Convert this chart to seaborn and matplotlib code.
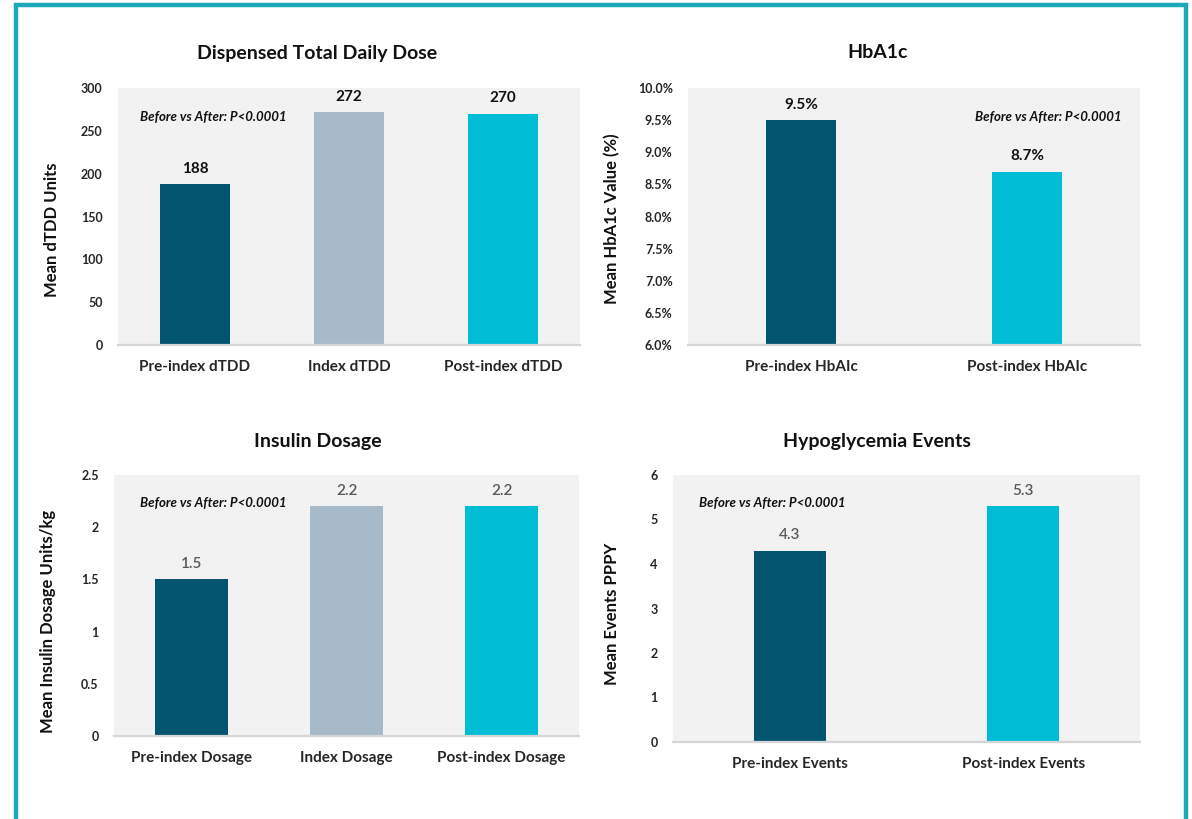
import matplotlib
matplotlib.use("Agg")
import matplotlib.pyplot as plt
from matplotlib.patches import Rectangle
from matplotlib.ticker import FuncFormatter
import seaborn as sns
import pandas as pd

# ---- data -------------------------------------------------------------
dose_labels = ["Pre-index dTDD", "Index dTDD", "Post-index dTDD"]
dose_values = [188, 272, 270]

hba1c_labels = ["Pre-index HbAIc", "Post-index HbAIc"]
hba1c_values = [9.5, 8.7]

insulin_labels = ["Pre-index Dosage", "Index Dosage", "Post-index Dosage"]
insulin_values = [1.5, 2.2, 2.2]

hypo_labels = ["Pre-index Events", "Post-index Events"]
hypo_values = [4.3, 5.3]

# ---- styling ----------------------------------------------------------
DARK = "#02546F"
GREYBLUE = "#A7BAC9"
CYAN = "#00BDD6"
PANEL_BG = "#F2F2F2"
FRAME = "#1BA8B8"

sns.set_theme(style="white")
plt.rcParams["font.family"] = ["Lato", "DejaVu Sans"]

W, H = 1192, 819
fig = plt.figure(figsize=(W / 100, H / 100), dpi=100)
fig.patch.set_facecolor("white")

# outer teal frame
fig.patches.append(Rectangle((16 / W, -0.05), (1186 - 16) / W, 1.05 - 5 / H,
                             transform=fig.transFigure, fill=False,
                             edgecolor=FRAME, linewidth=3.2, zorder=0))


def px_axes(left, top, right, bottom):
    return fig.add_axes([left / W, 1 - bottom / H, (right - left) / W, (bottom - top) / H])


def panel(ax, labels, values, colors, ylim, yticks, width, ylabel, ylab_xy,
          fmt_tick, fmt_val, val_color, val_weight, note_xy, note_ha):
    df = pd.DataFrame({"cat": labels, "val": values})
    sns.barplot(data=df, x="cat", y="val", hue="cat", palette=colors,
                width=width, legend=False, ax=ax, saturation=1,
                edgecolor="none", linewidth=0)
    ax.set_facecolor(PANEL_BG)
    ax.set_ylim(*ylim)
    ax.set_yticks(yticks)
    ax.yaxis.set_major_formatter(FuncFormatter(fmt_tick))
    ax.set_xlim(-0.5, len(labels) - 0.5)
    for s in ["top", "right", "left"]:
        ax.spines[s].set_visible(False)
    ax.spines["bottom"].set_color("#D6D6D6")
    ax.spines["bottom"].set_linewidth(1.6)
    ax.tick_params(axis="both", length=0)
    ax.tick_params(axis="y", pad=11, labelsize=9)
    ax.tick_params(axis="x", pad=11, labelsize=11)
    for t in ax.get_yticklabels():
        t.set_fontweight("bold")
    for t in ax.get_xticklabels():
        t.set_fontweight("bold")
    ax.set_xlabel("")
    ax.set_ylabel(ylabel, fontsize=12, fontweight="bold", color="#111111")
    ax.yaxis.set_label_coords(*ylab_xy)
    for i, v in enumerate(values):
        ax.annotate(fmt_val(v), xy=(i, v), xytext=(0, 6), textcoords="offset points",
                    ha="center", va="bottom", fontsize=11, color=val_color,
                    fontweight=val_weight)
    ax.text(note_xy[0], note_xy[1], "Before vs After: P<0.0001", transform=ax.transAxes,
            ha=note_ha, va="center", fontsize=9.5, fontstyle="italic",
            fontweight="bold", color="#111111")


# Dispensed total daily dose
ax1 = px_axes(118, 88, 580, 345)
panel(ax1, dose_labels, dose_values, [DARK, GREYBLUE, CYAN], (0, 300),
      range(0, 301, 50), 0.455, "Mean dTDD Units", (-0.125, 0.45),
      lambda v, p: f"{v:.0f}", lambda v: f"{v:.0f}", "#111111", "bold",
      (0.048, 0.887), "left")

# HbA1c
ax2 = px_axes(688, 88, 1140, 345)
panel(ax2, hba1c_labels, hba1c_values, [DARK, CYAN], (6.0, 10.0),
      [6.0 + 0.5 * k for k in range(9)], 0.31, "Mean HbA1c Value (%)", (-0.150, 0.49),
      lambda v, p: f"{v:.1f}%", lambda v: f"{v:.1f}%", "#111111", "bold",
      (0.96, 0.887), "right")

# Insulin dosage
ax3 = px_axes(114, 475, 579, 736)
panel(ax3, insulin_labels, insulin_values, [DARK, GREYBLUE, CYAN], (0, 2.5),
      [0, 0.5, 1, 1.5, 2, 2.5], 0.47, "Mean Insulin Dosage Units/kg", (-0.124, 0.44),
      lambda v, p: f"{v:g}", lambda v: f"{v:.1f}", "#595959", "semibold",
      (0.056, 0.893), "left")

# Hypoglycemia events
ax4 = px_axes(673, 475, 1140, 742)
panel(ax4, hypo_labels, hypo_values, [DARK, CYAN], (0, 6),
      range(0, 7), 0.31, "Mean Events PPPY", (-0.113, 0.48),
      lambda v, p: f"{v:.0f}", lambda v: f"{v:.1f}", "#595959", "semibold",
      (0.056, 0.895), "left")

# chart titles
for x, y, txt in [(317, 53, "Dispensed Total Daily Dose"), (878, 53, "HbA1c"),
                  (318, 441, "Insulin Dosage"), (877, 441, "Hypoglycemia Events")]:
    fig.text(x / W, 1 - y / H, txt, ha="center", va="center", fontsize=14,
             fontweight="bold", color="#111111")

fig.savefig("out.png", dpi=100, facecolor="white")
